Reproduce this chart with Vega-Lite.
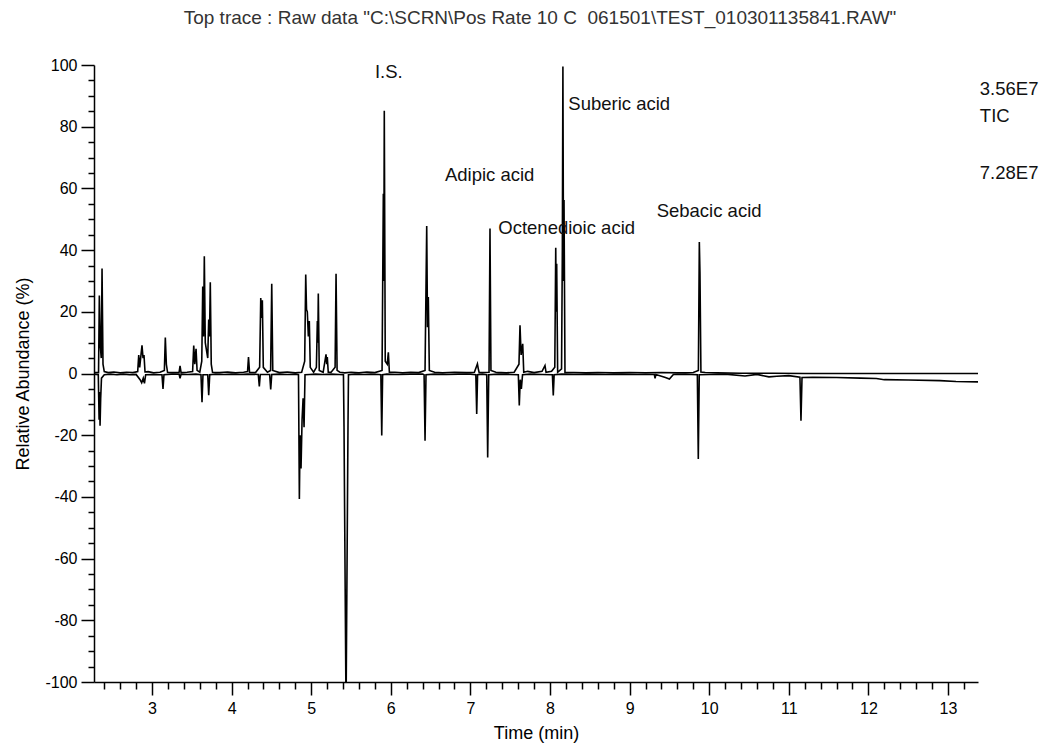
{
  "$schema": "https://vega.github.io/schema/vega-lite/v6.json",
  "width": 884,
  "height": 617,
  "autosize": {"type": "none"},
  "padding": {"left": 94, "top": 65, "right": 74, "bottom": 65},
  "background": "white",
  "config": {"view": {"stroke": null}, "font": "Liberation Sans"},
  "title": {"text": "Top trace : Raw data \"C:\\SCRN\\Pos Rate 10 C\u00a0 061501\\TEST_010301135841.RAW\"", "fontSize": 19, "fontWeight": "normal", "color": "#333333", "anchor": "middle", "offset": 29, "dx": 4},
  "datasets": {
    "top": [
      {"t":2.271,"v":0.3},{"t":2.328,"v":0.3},{"t":2.338,"v":25.3},{"t":2.350,"v":9},{"t":2.362,"v":5},{"t":2.372,"v":34},{"t":2.384,"v":3},{"t":2.40,"v":0.6},{"t":2.45,"v":0.3},{"t":2.52,"v":0.5},{"t":2.60,"v":0.2},{"t":2.68,"v":0.4},{"t":2.76,"v":0.3},{"t":2.82,"v":0.6},{"t":2.833,"v":6},{"t":2.845,"v":2},{"t":2.874,"v":9.1},{"t":2.887,"v":5},{"t":2.899,"v":6},{"t":2.912,"v":0.5},{"t":2.95,"v":0.6},{"t":3.02,"v":0.2},{"t":3.10,"v":0.4},{"t":3.155,"v":1},{"t":3.167,"v":11.7},{"t":3.18,"v":3},{"t":3.195,"v":0.4},{"t":3.26,"v":0.3},{"t":3.34,"v":0.4},{"t":3.352,"v":2.5},{"t":3.365,"v":0.3},{"t":3.44,"v":0.4},{"t":3.51,"v":0.6},{"t":3.524,"v":9.1},{"t":3.537,"v":3},{"t":3.553,"v":8},{"t":3.566,"v":1},{"t":3.60,"v":0.4},{"t":3.625,"v":4},{"t":3.637,"v":28.2},{"t":3.647,"v":12},{"t":3.657,"v":38},{"t":3.669,"v":10},{"t":3.700,"v":5},{"t":3.712,"v":17.5},{"t":3.722,"v":12},{"t":3.732,"v":29.6},{"t":3.744,"v":3},{"t":3.76,"v":0.4},{"t":3.85,"v":0.3},{"t":3.95,"v":0.5},{"t":4.05,"v":0.2},{"t":4.15,"v":0.4},{"t":4.20,"v":0.6},{"t":4.212,"v":5.3},{"t":4.225,"v":0.4},{"t":4.30,"v":0.3},{"t":4.352,"v":2},{"t":4.366,"v":24.5},{"t":4.376,"v":18},{"t":4.386,"v":23.7},{"t":4.398,"v":2},{"t":4.45,"v":0.4},{"t":4.49,"v":1},{"t":4.504,"v":29.1},{"t":4.517,"v":1},{"t":4.60,"v":0.3},{"t":4.70,"v":0.5},{"t":4.80,"v":0.2},{"t":4.88,"v":0.4},{"t":4.918,"v":4},{"t":4.931,"v":32.1},{"t":4.941,"v":20.7},{"t":4.951,"v":20},{"t":4.964,"v":12},{"t":4.976,"v":17},{"t":4.988,"v":2},{"t":5.03,"v":0.4},{"t":5.065,"v":2},{"t":5.077,"v":17},{"t":5.083,"v":10},{"t":5.089,"v":25.9},{"t":5.101,"v":1},{"t":5.15,"v":0.4},{"t":5.186,"v":6.2},{"t":5.195,"v":3},{"t":5.202,"v":5.3},{"t":5.214,"v":0.4},{"t":5.25,"v":0.4},{"t":5.30,"v":2},{"t":5.312,"v":32.3},{"t":5.325,"v":1},{"t":5.36,"v":0.4},{"t":5.42,"v":0.2},{"t":5.50,"v":0.4},{"t":5.60,"v":0.2},{"t":5.70,"v":0.5},{"t":5.80,"v":0.3},{"t":5.89,"v":1},{"t":5.906,"v":58.3},{"t":5.912,"v":30},{"t":5.918,"v":85.2},{"t":5.930,"v":4},{"t":5.955,"v":3},{"t":5.969,"v":6.9},{"t":5.982,"v":0.4},{"t":6.05,"v":0.4},{"t":6.15,"v":0.2},{"t":6.25,"v":0.4},{"t":6.35,"v":0.3},{"t":6.43,"v":1},{"t":6.451,"v":47.8},{"t":6.461,"v":15},{"t":6.471,"v":24.8},{"t":6.484,"v":1},{"t":6.55,"v":0.4},{"t":6.65,"v":0.2},{"t":6.80,"v":0.4},{"t":6.95,"v":0.3},{"t":7.05,"v":0.4},{"t":7.088,"v":3.1},{"t":7.099,"v":1.5},{"t":7.11,"v":0.3},{"t":7.234,"v":0.4},{"t":7.246,"v":47},{"t":7.258,"v":1},{"t":7.32,"v":0.4},{"t":7.45,"v":0.2},{"t":7.55,"v":0.4},{"t":7.61,"v":3},{"t":7.623,"v":15.6},{"t":7.637,"v":6},{"t":7.657,"v":9.6},{"t":7.67,"v":0.4},{"t":7.72,"v":0.7},{"t":7.80,"v":0.3},{"t":7.90,"v":0.7},{"t":7.937,"v":2.6},{"t":7.95,"v":0.4},{"t":8.02,"v":0.7},{"t":8.06,"v":2},{"t":8.072,"v":40.8},{"t":8.078,"v":20},{"t":8.084,"v":35.6},{"t":8.096,"v":0.4},{"t":8.145,"v":1.5},{"t":8.155,"v":40},{"t":8.162,"v":99.5},{"t":8.170,"v":30},{"t":8.176,"v":56.2},{"t":8.188,"v":0.3},{"t":8.30,"v":0.3},{"t":8.45,"v":0.2},{"t":8.60,"v":0.3},{"t":8.80,"v":0.2},{"t":9.00,"v":0.3},{"t":9.20,"v":0.2},{"t":9.40,"v":0.3},{"t":9.60,"v":0.2},{"t":9.80,"v":0.3},{"t":9.864,"v":1},{"t":9.876,"v":42.6},{"t":9.884,"v":32.5},{"t":9.896,"v":0.5},{"t":9.95,"v":0.3},{"t":10.1,"v":0.2},{"t":10.4,"v":0.1},{"t":10.8,"v":0.1},{"t":11.2,"v":0},{"t":11.6,"v":0},{"t":12.0,"v":0},{"t":12.5,"v":0},{"t":13.0,"v":0},{"t":13.377,"v":0}
    ],
    "bottom": [
      {"t":2.271,"v":-0.2},{"t":2.325,"v":-0.4},{"t":2.335,"v":-15},{"t":2.341,"v":-6},{"t":2.347,"v":-16.9},{"t":2.355,"v":-8},{"t":2.365,"v":-1.5},{"t":2.40,"v":-0.4},{"t":2.48,"v":-0.2},{"t":2.56,"v":-0.4},{"t":2.64,"v":-0.2},{"t":2.72,"v":-0.4},{"t":2.80,"v":-0.3},{"t":2.85,"v":-2},{"t":2.87,"v":-3},{"t":2.89,"v":-1.5},{"t":2.905,"v":-3.2},{"t":2.92,"v":-0.4},{"t":3.00,"v":-0.3},{"t":3.08,"v":-0.4},{"t":3.125,"v":-0.4},{"t":3.138,"v":-5},{"t":3.15,"v":-0.4},{"t":3.24,"v":-0.2},{"t":3.34,"v":-0.2},{"t":3.352,"v":-1.6},{"t":3.365,"v":-0.2},{"t":3.45,"v":-0.3},{"t":3.55,"v":-0.2},{"t":3.615,"v":-0.4},{"t":3.628,"v":-9.3},{"t":3.64,"v":-0.4},{"t":3.70,"v":-0.4},{"t":3.712,"v":-7},{"t":3.725,"v":-0.4},{"t":3.80,"v":-0.2},{"t":3.90,"v":-0.3},{"t":4.00,"v":-0.2},{"t":4.10,"v":-0.3},{"t":4.20,"v":-0.2},{"t":4.335,"v":-0.3},{"t":4.348,"v":-4.2},{"t":4.36,"v":-0.3},{"t":4.478,"v":-0.3},{"t":4.491,"v":-5.2},{"t":4.504,"v":-0.3},{"t":4.60,"v":-0.2},{"t":4.70,"v":-0.3},{"t":4.80,"v":-0.2},{"t":4.84,"v":-0.4},{"t":4.851,"v":-40.7},{"t":4.860,"v":-20},{"t":4.872,"v":-30.8},{"t":4.885,"v":-15},{"t":4.898,"v":-8},{"t":4.910,"v":-17.4},{"t":4.922,"v":-0.4},{"t":4.98,"v":-0.3},{"t":5.05,"v":-0.2},{"t":5.15,"v":-0.3},{"t":5.25,"v":-0.2},{"t":5.35,"v":-0.3},{"t":5.405,"v":-0.4},{"t":5.412,"v":-17},{"t":5.435,"v":-100},{"t":5.440,"v":-100},{"t":5.462,"v":-17},{"t":5.468,"v":-0.4},{"t":5.55,"v":-0.2},{"t":5.65,"v":-0.3},{"t":5.75,"v":-0.2},{"t":5.85,"v":-0.3},{"t":5.875,"v":-0.4},{"t":5.886,"v":-20.1},{"t":5.897,"v":-0.4},{"t":5.95,"v":-0.2},{"t":6.10,"v":-0.3},{"t":6.25,"v":-0.2},{"t":6.40,"v":-0.2},{"t":6.418,"v":-0.4},{"t":6.430,"v":-21.8},{"t":6.442,"v":-0.4},{"t":6.55,"v":-0.2},{"t":6.70,"v":-0.3},{"t":6.85,"v":-0.2},{"t":7.00,"v":-0.2},{"t":7.068,"v":-0.4},{"t":7.079,"v":-13.1},{"t":7.09,"v":-0.4},{"t":7.15,"v":-0.2},{"t":7.205,"v":-0.4},{"t":7.217,"v":-27.2},{"t":7.23,"v":-0.4},{"t":7.35,"v":-0.2},{"t":7.50,"v":-0.3},{"t":7.602,"v":-0.4},{"t":7.614,"v":-10.4},{"t":7.626,"v":-2},{"t":7.64,"v":-5},{"t":7.655,"v":-0.4},{"t":7.75,"v":-0.2},{"t":7.90,"v":-0.3},{"t":8.03,"v":-0.4},{"t":8.041,"v":-7.1},{"t":8.052,"v":-0.4},{"t":8.15,"v":-0.2},{"t":8.30,"v":-0.3},{"t":8.50,"v":-0.2},{"t":8.70,"v":-0.3},{"t":8.90,"v":-0.2},{"t":9.10,"v":-0.3},{"t":9.31,"v":-0.3},{"t":9.32,"v":-1.6},{"t":9.33,"v":-0.3},{"t":9.45,"v":-1.3},{"t":9.50,"v":-1.8},{"t":9.55,"v":-0.3},{"t":9.70,"v":-0.2},{"t":9.851,"v":-0.4},{"t":9.863,"v":-27.7},{"t":9.875,"v":-0.4},{"t":10.0,"v":-0.3},{"t":10.2,"v":-0.2},{"t":10.45,"v":-0.8},{"t":10.6,"v":-0.3},{"t":10.75,"v":-1.1},{"t":10.85,"v":-0.9},{"t":11.0,"v":-0.7},{"t":11.14,"v":-1.2},{"t":11.153,"v":-15.3},{"t":11.166,"v":-1.3},{"t":11.3,"v":-1.2},{"t":11.6,"v":-1.3},{"t":11.9,"v":-1.5},{"t":12.1,"v":-1.6},{"t":12.2,"v":-2},{"t":12.5,"v":-2.1},{"t":12.9,"v":-2.3},{"t":13.1,"v":-2.6},{"t":13.377,"v":-2.7}
    ],
    "labels": [
      {"t":5.80,"v":97.7,"label":"I.S."},
      {"t":8.23,"v":87.3,"label":"Suberic acid"},
      {"t":6.68,"v":64.3,"label":"Adipic acid"},
      {"t":7.35,"v":47.1,"label":"Octenedioic acid"},
      {"t":9.34,"v":52.6,"label":"Sebacic acid"},
      {"t":13.40,"v":92.2,"label":"3.56E7"},
      {"t":13.40,"v":83.4,"label":"TIC"},
      {"t":13.40,"v":64.9,"label":"7.28E7"}
    ]
  },
  "layer": [
    {
      "data": {"name": "bottom"},
      "mark": {"type": "line", "color": "black", "strokeWidth": 1.6, "clip": true},
      "encoding": {
        "x": {"field": "t", "type": "quantitative", "scale": {"domain": [2.271, 13.377], "nice": false, "zero": false},
          "axis": {
            "values": [2.4,2.6,2.8,3,3.2,3.4,3.6,3.8,4,4.2,4.4,4.6,4.8,5,5.2,5.4,5.6,5.8,6,6.2,6.4,6.6,6.8,7,7.2,7.4,7.6,7.8,8,8.2,8.4,8.6,8.8,9,9.2,9.4,9.6,9.8,10,10.2,10.4,10.6,10.8,11,11.2,11.4,11.6,11.8,12,12.2,12.4,12.6,12.8,13,13.2],
            "tickCount": 500,
            "tickSize": {"condition": {"test": "abs(datum.value - round(datum.value)) < 0.01", "value": 13}, "value": 7},
            "labelExpr": "abs(datum.value - round(datum.value)) < 0.01 ? '' + round(datum.value) : ''",
            "labelOverlap": false, "labelFlush": false, "labelFontSize": 16, "labelPadding": 5, "labelColor": "black",
            "title": "Time (min)", "titleFontSize": 18, "titleFontWeight": "normal", "titleColor": "black", "titlePadding": 8,
            "domainColor": "black", "domainWidth": 1.5, "tickColor": "black", "tickWidth": 1.5, "grid": false
          }},
        "y": {"field": "v", "type": "quantitative", "scale": {"domain": [-100, 100], "nice": false},
          "axis": {
            "values": [-100,-95,-90,-85,-80,-75,-70,-65,-60,-55,-50,-45,-40,-35,-30,-25,-20,-15,-10,-5,0,5,10,15,20,25,30,35,40,45,50,55,60,65,70,75,80,85,90,95,100],
            "tickCount": 500,
            "tickSize": {"condition": {"test": "datum.value % 20 === 0", "value": 13}, "value": 6},
            "labelExpr": "datum.value % 20 === 0 ? '' + datum.value : ''",
            "labelOverlap": false, "labelFlush": false, "labelFontSize": 16, "labelPadding": 4, "labelColor": "black",
            "title": "Relative Abundance (%)", "titleFontSize": 18, "titleFontWeight": "normal", "titleColor": "black", "titlePadding": 12,
            "domainColor": "black", "domainWidth": 1.5, "tickColor": "black", "tickWidth": 1.5, "grid": false
          }}
      }
    },
    {
      "data": {"name": "top"},
      "mark": {"type": "line", "color": "black", "strokeWidth": 1.6, "clip": true},
      "encoding": {
        "x": {"field": "t", "type": "quantitative"},
        "y": {"field": "v", "type": "quantitative"}
      }
    },
    {
      "data": {"name": "labels"},
      "mark": {"type": "text", "align": "left", "baseline": "middle", "fontSize": 18.5, "color": "#111111"},
      "encoding": {
        "x": {"field": "t", "type": "quantitative"},
        "y": {"field": "v", "type": "quantitative"},
        "text": {"field": "label"}
      }
    }
  ]
}
